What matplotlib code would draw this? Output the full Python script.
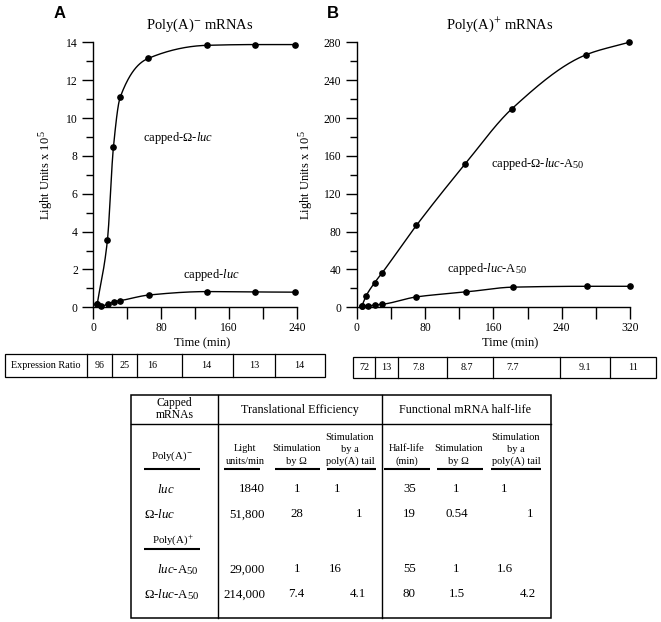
import numpy as np
import matplotlib
matplotlib.use('Agg')
import matplotlib.pyplot as plt
from matplotlib.ticker import MultipleLocator
from matplotlib.patches import Rectangle
from matplotlib import _mathtext
_mathtext.SHRINK_FACTOR = 0.82

plt.rcParams['font.family'] = ['Liberation Serif', 'DejaVu Serif']
plt.rcParams['mathtext.fontset'] = 'custom'
plt.rcParams['mathtext.rm'] = 'Liberation Serif'
plt.rcParams['mathtext.it'] = 'Liberation Serif:italic'

# ---------------- data ----------------
a_omega_t = [5, 17, 24, 32, 65, 134, 190, 238]
a_omega_v = [0.18, 3.56, 8.45, 11.1, 13.15, 13.84, 13.88, 13.88]
a_luc_t = [5, 10, 18, 25, 32, 66, 134, 191, 238]
a_luc_v = [0.18, 0.07, 0.18, 0.30, 0.35, 0.65, 0.83, 0.81, 0.80]

b_omega_t = [6, 11, 21, 30, 70, 127, 182, 269, 319]
b_omega_v = [1.4, 12, 26, 36.6, 86.6, 151.5, 210, 267, 280]
b_luc_t = [6, 13, 21, 30, 70, 128, 183, 270, 320]
b_luc_v = [1.4, 1.4, 2.5, 3.2, 11, 16.2, 21.3, 22.2, 22.2]

ratio_a_label = "Expression Ratio"
ratio_a = ["96", "25", "16", "14", "13", "14"]
ratio_b = ["72", "13", "7.8", "8.7", "7.7", "9.1", "11"]

row_labels = [r"$\mathit{luc}$", r"Ω-$\mathit{luc}$",
              r"$\mathit{luc}$-A$_{50}$", r"Ω-$\mathit{luc}$-A$_{50}$"]
te_light = ["1840", "51,800", "29,000", "214,000"]
te_stim_omega = ["1", "28", "1", "7.4"]
te_stim_polya = ["1", "1", "16", "4.1"]
hl_halflife = ["35", "19", "55", "80"]
hl_stim_omega = ["1", "0.54", "1", "1.5"]
hl_stim_polya = ["1", "1", "1.6", "4.2"]


def pchip(x, y, xn):
    x = np.asarray(x, float); y = np.asarray(y, float)
    h = np.diff(x); d = np.diff(y) / h
    m = np.zeros_like(y)
    m[0] = d[0]; m[-1] = d[-1]
    for k in range(1, len(x) - 1):
        if d[k - 1] * d[k] > 0:
            w1 = 2 * h[k] + h[k - 1]; w2 = h[k] + 2 * h[k - 1]
            m[k] = (w1 + w2) / (w1 / d[k - 1] + w2 / d[k])
    out = np.empty_like(xn)
    idx = np.clip(np.searchsorted(x, xn) - 1, 0, len(x) - 2)
    for i, (xv, k) in enumerate(zip(xn, idx)):
        t = (xv - x[k]) / h[k]
        h00 = 2 * t**3 - 3 * t**2 + 1; h10 = t**3 - 2 * t**2 + t
        h01 = -2 * t**3 + 3 * t**2; h11 = t**3 - t**2
        out[i] = h00 * y[k] + h10 * h[k] * m[k] + h01 * y[k + 1] + h11 * h[k] * m[k + 1]
    return out


W, H = 661, 622
fig = plt.figure(figsize=(W / 100, H / 100), dpi=100)

# overlay axes in pixel coordinates for boxes / table
ov = fig.add_axes([0, 0, 1, 1])
ov.set_xlim(0, W); ov.set_ylim(H, 0); ov.axis('off')


def ax_rect(x0, x1, y0, y1):
    return [x0 / W, 1 - y1 / H, (x1 - x0) / W, (y1 - y0) / H]


def style_axis(ax, xmax, xmaj, xmin, ymax, ymaj, ymin):
    ax.set_xlim(0, xmax); ax.set_ylim(0, ymax)
    ax.spines['top'].set_visible(False); ax.spines['right'].set_visible(False)
    for s in ('left', 'bottom'):
        ax.spines[s].set_linewidth(1.0)
    ax.xaxis.set_major_locator(MultipleLocator(xmaj))
    ax.xaxis.set_minor_locator(MultipleLocator(xmin))
    ax.yaxis.set_major_locator(MultipleLocator(ymaj))
    ax.yaxis.set_minor_locator(MultipleLocator(ymin))
    ax.tick_params(axis='y', which='major', length=8, width=1.0, labelsize=8.4, pad=3)
    ax.tick_params(axis='y', which='minor', length=5, width=1.0)
    ax.tick_params(axis='x', which='both', length=8.5, width=1.0, labelsize=8.4, pad=2)
    ax.patch.set_alpha(0)


def draw(ax, t, v):
    xs = np.linspace(t[0], t[-1], 400)
    ax.plot(xs, pchip(t, v, xs), color='k', lw=1.0, clip_on=False)
    ax.plot(t, v, 'o', color='k', ms=3.8, clip_on=False)


axA = fig.add_axes(ax_rect(93, 297, 42.3, 307.3))
style_axis(axA, 240, 80, 40, 14, 2, 1)
draw(axA, a_omega_t, a_omega_v)
draw(axA, a_luc_t, a_luc_v)
axA.set_ylabel(r"Light Units x 10$^{\,5}$", fontsize=9)
axA.yaxis.set_label_coords(-0.186, 0.5)
axA.set_xlabel("Time (min)", fontsize=9)
axA.xaxis.set_label_coords(0.537, -0.134)
axA.xaxis.label.set_va('center')

axB = fig.add_axes(ax_rect(356.7, 630, 42.3, 307.3))
style_axis(axB, 320, 80, 40, 280, 40, 20)
draw(axB, b_omega_t, b_omega_v)
draw(axB, b_luc_t, b_luc_v)
axB.set_ylabel(r"Light Units x 10$^{\,5}$", fontsize=9)
axB.yaxis.set_label_coords(-0.153, 0.5)
axB.set_xlabel("Time (min)", fontsize=9)
axB.xaxis.set_label_coords(0.561, -0.134)
axB.xaxis.label.set_va('center')

# titles, panel letters, annotations
ov.text(200, 25, r"Poly(A)$^{-}$ mRNAs", fontsize=10.5, ha='center', va='center')
ov.text(500, 25, r"Poly(A)$^{+}$ mRNAs", fontsize=10.5, ha='center', va='center')
ov.text(60, 13.5, "A", fontsize=12, fontweight='bold', family='Liberation Sans', ha='center', va='center')
ov.text(333, 13.5, "B", fontsize=12, fontweight='bold', family='Liberation Sans', ha='center', va='center')
ov.text(142.7, 141, r"capped-Ω-$\mathit{luc}$", fontsize=9, ha='left', va='baseline')
ov.text(182.7, 278.3, r"capped-$\mathit{luc}$", fontsize=9, ha='left', va='baseline')
ov.text(491, 166.7, r"capped-Ω-$\mathit{luc}$-A$_{50}$", fontsize=9, ha='left', va='baseline')
ov.text(446.7, 271.7, r"capped-$\mathit{luc}$-A$_{50}$", fontsize=9, ha='left', va='baseline')

# expression ratio boxes
ra_edges = [5, 86.7, 111.7, 136.7, 181.7, 233.3, 275, 325]
ra_text_x = [99.2, 124.2, 151.7, 206.5, 254.3, 299.3]
ra_y0, ra_y1 = 354.3, 377.3
ov.add_patch(Rectangle((ra_edges[0], ra_y0), ra_edges[-1] - ra_edges[0], ra_y1 - ra_y0,
                       fill=False, lw=0.9, ec='k'))
for e in ra_edges[1:-1]:
    ov.plot([e, e], [ra_y0, ra_y1], color='k', lw=0.9)
ov.text((ra_edges[0] + ra_edges[1]) / 2, 366, ratio_a_label, fontsize=7.3, ha='center', va='center')
for x, s in zip(ra_text_x, ratio_a):
    ov.text(x, 366, s, fontsize=7.3, ha='center', va='center')

rb_edges = [353.3, 375, 398.3, 446.7, 492.7, 560, 610, 656]
rb_text_x = [364.2, 386.7, 418.3, 467.3, 512.7, 585, 633.3]
rb_y0, rb_y1 = 356.7, 378.3
ov.add_patch(Rectangle((rb_edges[0], rb_y0), rb_edges[-1] - rb_edges[0], rb_y1 - rb_y0,
                       fill=False, lw=0.9, ec='k'))
for e in rb_edges[1:-1]:
    ov.plot([e, e], [rb_y0, rb_y1], color='k', lw=0.9)
for x, s in zip(rb_text_x, ratio_b):
    ov.text(x, 367.7, s, fontsize=7.3, ha='center', va='center')

# table
tx0, tx1, ty0, ty1 = 131, 551, 395, 617.5
ov.add_patch(Rectangle((tx0, ty0), tx1 - tx0, ty1 - ty0, fill=False, lw=1.1, ec='k'))
ov.plot([tx0, tx1], [424.3, 424.3], color='k', lw=1.0)
for xv in (217.7, 381.7):
    ov.plot([xv, xv], [ty0, ty1], color='k', lw=1.0)

ov.text(174.3, 403.2, "Capped", fontsize=8.4, ha='center', va='center')
ov.text(174.3, 414.6, "mRNAs", fontsize=8.4, ha='center', va='center')
ov.text(300, 410, "Translational Efficiency", fontsize=8.7, ha='center', va='center')
ov.text(465, 410, "Functional mRNA half-life", fontsize=8.7, ha='center', va='center')

sub = 7.5
two_line_cols = [(245, "Light", "units/min"), (296.7, "Stimulation", "by Ω"),
                 (406.7, "Half-life", "(min)"), (458.3, "Stimulation", "by Ω")]
for xc, l1, l2 in two_line_cols:
    ov.text(xc, 448.8, l1, fontsize=sub, ha='center', va='center')
    ov.text(xc, 461, l2, fontsize=sub, ha='center', va='center')
for xc in (350, 516):
    ov.text(xc, 437, "Stimulation", fontsize=sub, ha='center', va='center')
    ov.text(xc, 449, "by a", fontsize=sub, ha='center', va='center')
    ov.text(xc, 461, "poly(A) tail", fontsize=sub, ha='center', va='center')

for a, b in [(144, 200), (224, 260), (275, 320), (326.7, 375.7),
             (384, 430), (436.7, 482.7), (491, 541)]:
    ov.plot([a, b], [469, 469], color='k', lw=1.5, solid_capstyle='butt')

ov.text(171.7, 456.7, r"Poly(A)$^{-}$", fontsize=7.8, ha='center', va='center')
ov.text(172.7, 540, r"Poly(A)$^{+}$", fontsize=7.8, ha='center', va='center')
ov.plot([144, 200], [549.3, 549.3], color='k', lw=1.5, solid_capstyle='butt')

row_y = [489.3, 514.3, 569.3, 594.3]
label_pos = [(166, 'center'), (144, 'left'), (198.3, 'right'), (144, 'left')]
polya_te_x = [337.3, 359.3, 335.3, 357.7]
polya_hl_x = [504, 530, 505, 528.3]
vs = 9.3
for i, y in enumerate(row_y):
    lx, ha = label_pos[i]
    ov.text(lx, y, row_labels[i], fontsize=vs, ha=ha, va='center')
    ov.text(265, y, te_light[i], fontsize=vs, ha='right', va='center')
    ov.text(296.7, y, te_stim_omega[i], fontsize=vs, ha='center', va='center')
    ov.text(polya_te_x[i], y, te_stim_polya[i], fontsize=vs, ha='center', va='center')
    ov.text(409.3, y, hl_halflife[i], fontsize=vs, ha='center', va='center')
    ov.text(456.5, y, hl_stim_omega[i], fontsize=vs, ha='center', va='center')
    ov.text(polya_hl_x[i], y, hl_stim_polya[i], fontsize=vs, ha='center', va='center')

fig.savefig('out.png', dpi=100)
